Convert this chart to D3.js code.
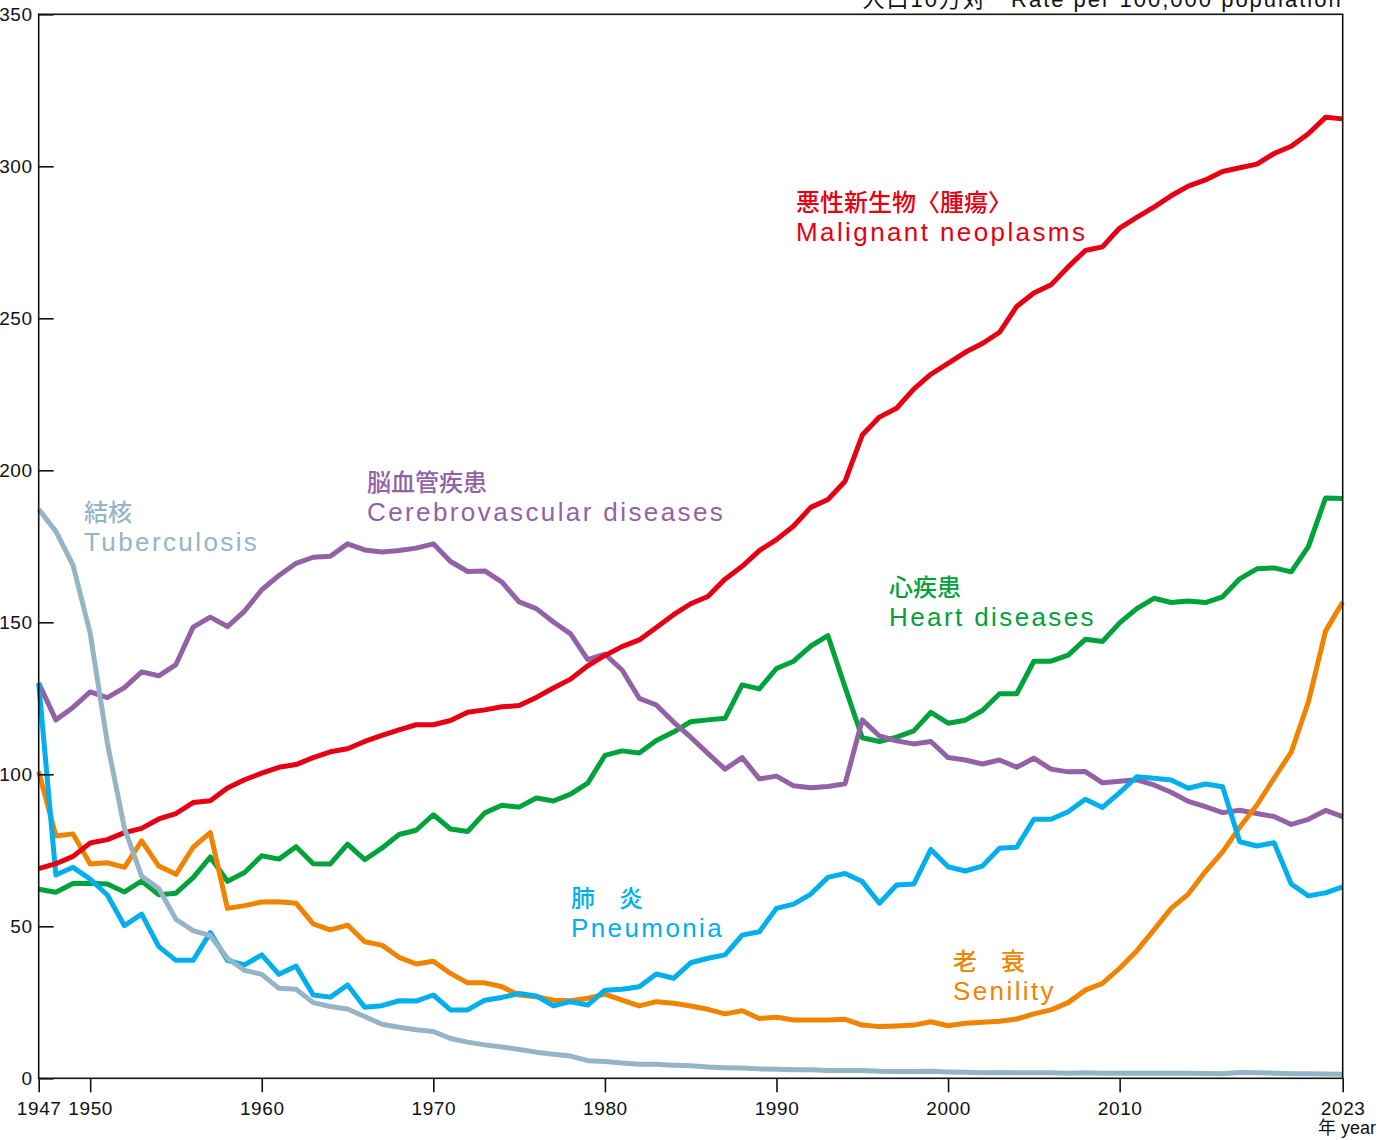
<!DOCTYPE html>
<html>
<head>
<meta charset="utf-8">
<script src="https://cdn.jsdelivr.net/npm/d3@7"></script>
<style>
  body { margin: 0; background: #fff; }
  svg { display: block; }
  text { font-family: "Liberation Sans", Arial, "Noto Sans CJK JP", sans-serif; }
</style>
</head>
<body>
<svg id="chart" width="1380" height="1140"></svg>
<script>
  // 年次 1947–2023
  let years = d3.range(1947, 2024);

  // 死亡率（人口10万対）
  let malignant = [69.0, 70.6, 73.0,
    77.4, 78.5, 80.8, 82.2, 85.3, 87.1, 90.7, 91.3, 95.5, 98.2,
    100.4, 102.3, 103.2, 105.5, 107.4, 108.4, 110.8, 112.8, 114.6, 116.3,
    116.3, 117.7, 120.4, 121.2, 122.2, 122.6, 125.3, 128.4, 131.3, 135.7,
    139.1, 142.0, 144.2, 148.3, 152.5, 156.1, 158.5, 164.2, 168.4, 173.6,
    177.2, 181.7, 187.8, 190.4, 196.4, 211.6, 217.5, 220.4, 226.7, 231.6,
    235.2, 238.8, 241.7, 245.4, 253.9, 258.3, 261.0, 266.9, 272.3, 273.5,
    279.7, 283.2, 286.6, 290.3, 293.5, 295.5, 298.3, 299.5, 300.7, 304.2,
    306.6, 310.7, 316.1, 315.6];

  let heart = [62.2, 61.2, 64.1,
    64.2, 63.9, 61.3, 64.9, 60.4, 60.9, 66.0, 72.8, 64.8, 67.7,
    73.2, 72.1, 76.2, 70.6, 70.5, 77.0, 71.9, 75.7, 80.2, 81.6,
    86.7, 82.0, 81.2, 87.3, 89.8, 89.2, 92.2, 91.2, 93.5, 97.1,
    106.2, 107.7, 107.0, 111.1, 113.9, 117.3, 117.9, 118.4, 129.4, 128.1,
    134.8, 137.2, 142.2, 145.6, 128.6, 112.0, 110.8, 112.2, 114.3, 120.4,
    116.8, 117.8, 121.0, 126.5, 126.5, 137.2, 137.2, 139.2, 144.4, 143.7,
    149.8, 154.5, 157.9, 156.5, 157.0, 156.5, 158.4, 164.3, 167.6, 167.9,
    166.6, 174.9, 190.9, 190.7];

  let cerebro = [130.0, 117.9, 122.0,
    127.1, 125.2, 128.5, 133.7, 132.4, 136.1, 148.4, 151.7, 148.6, 153.7,
    160.7, 165.4, 169.4, 171.4, 171.7, 175.8, 173.8, 173.1, 173.6, 174.4,
    175.8, 170.0, 166.7, 166.9, 163.2, 156.7, 154.5, 150.1, 146.2, 137.7,
    139.5, 134.3, 125.0, 122.8, 117.2, 112.2, 106.9, 101.7, 105.5, 98.5,
    99.4, 96.2, 95.6, 96.0, 96.9, 117.9, 112.6, 111.0, 110.0, 110.8,
    105.5, 104.7, 103.4, 104.7, 102.3, 105.3, 101.7, 100.8, 100.9, 97.2,
    97.7, 98.2, 96.5, 94.1, 91.1, 89.4, 87.4, 88.2, 87.1, 86.1,
    83.5, 85.2, 88.1, 86.1];

  let pneumonia = [130.0, 66.9, 69.4,
    65.5, 60.3, 50.2, 54.0, 43.3, 38.8, 38.8, 47.9, 38.8, 37.3,
    40.6, 34.2, 36.9, 27.4, 26.7, 30.7, 23.4, 23.9, 25.5, 25.4,
    27.4, 22.5, 22.5, 25.7, 26.6, 27.9, 27.1, 23.8, 25.2, 24.1,
    29.0, 29.3, 30.1, 34.3, 32.9, 38.0, 39.5, 40.6, 47.1, 48.2,
    55.9, 57.3, 60.6, 66.1, 67.4, 64.7, 57.6, 63.6, 63.9, 75.3,
    69.6, 68.2, 69.8, 75.7, 76.0, 85.2, 85.2, 87.7, 91.8, 89.1,
    94.0, 99.2, 98.7, 98.1, 95.4, 96.8, 95.9, 77.8, 76.4, 77.5,
    63.9, 60.0, 61.0, 63.0];

  let senility = [100.9, 79.7, 80.4,
    70.5, 70.9, 69.4, 78.1, 69.8, 67.1, 76.0, 80.8, 55.9, 56.8,
    58.0, 58.1, 57.6, 50.8, 48.8, 50.4, 44.9, 43.8, 39.8, 37.6,
    38.5, 34.5, 31.4, 31.4, 30.1, 27.4, 26.8, 25.7, 25.5, 26.3,
    27.7, 25.7, 23.8, 25.2, 24.7, 23.8, 22.7, 21.2, 22.2, 19.7,
    20.1, 19.2, 19.2, 19.2, 19.4, 17.5, 17.0, 17.2, 17.5, 18.6,
    17.3, 18.1, 18.4, 18.8, 19.5, 21.2, 22.5, 24.9, 29.0, 31.2,
    36.2, 41.9, 48.8, 55.9, 60.6, 68.0, 74.5, 82.6, 89.9, 98.7,
    107.3, 123.8, 147.1, 156.7];

  let tuberculosis = [187.2, 179.9, 168.8,
    146.4, 110.3, 82.2, 66.5, 62.4, 52.3, 48.6, 46.9, 39.5, 35.5,
    34.2, 29.6, 29.3, 24.9, 23.6, 22.8, 20.3, 17.8, 16.8, 16.0,
    15.4, 13.1, 11.9, 11.0, 10.3, 9.5, 8.6, 7.9, 7.3, 5.8,
    5.5, 5.0, 4.6, 4.6, 4.3, 4.1, 3.7, 3.5, 3.4, 3.1,
    3.0, 2.8, 2.8, 2.6, 2.6, 2.6, 2.3, 2.2, 2.2, 2.3,
    2.1, 2.0, 1.8, 1.9, 1.8, 1.8, 1.8, 1.7, 1.8, 1.7,
    1.7, 1.7, 1.7, 1.7, 1.7, 1.6, 1.5, 1.9, 1.8, 1.7,
    1.5, 1.5, 1.4, 1.3];

  // 目盛り
  let xTicks = [1947, 1950, 1960, 1970, 1980, 1990, 2000, 2010, 2023];
  let yTicks = [0, 50, 100, 150, 200, 250, 300, 350];

  // 系列（描画順）
  let series = [
    { key: 'heart',     values: heart,        color: '#00a23c', ja: '心疾患',           en: 'Heart diseases' },
    { key: 'cerebro',   values: cerebro,      color: '#9261a6', ja: '脳血管疾患',       en: 'Cerebrovascular diseases' },
    { key: 'senility',  values: senility,     color: '#f08300', ja: '老\u3000衰',       en: 'Senility' },
    { key: 'pneumonia', values: pneumonia,    color: '#00afec', ja: '肺\u3000炎',       en: 'Pneumonia' },
    { key: 'malignant', values: malignant,    color: '#e60012', ja: '悪性新生物〈腫瘍〉', en: 'Malignant neoplasms' },
    { key: 'tb',        values: tuberculosis, color: '#95b4c6', ja: '結核',             en: 'Tuberculosis' }
  ];

  // ラベル位置（px、左端とベースライン）
  let labelPos = {
    malignant: [796, 211], cerebro: [367, 491], tb: [84, 521],
    heart: [889, 596], pneumonia: [571, 907], senility: [953, 970]
  };

  let plotL = 38.7, plotR = 1342.7, plotT = 14.3, plotB = 1078.3;

  let x = d3.scaleLinear().domain([1947, 2023]).range([plotL, plotR]);
  let y = d3.scaleLinear().domain([0, 350]).range([plotB, plotT]);

  let svg = d3.select('#chart');

  // 右上の単位（元図でも上端で切れている）
  svg.append('text')
    .attr('x', plotR).attr('y', 7)
    .attr('text-anchor', 'end')
    .style('font-size', '22px').style('letter-spacing', '2px')
    .attr('fill', '#111')
    .text('人口10万対\u3000Rate per 100,000 population');

  // 線
  let line = d3.line().x((d, i) => x(years[i])).y(d => y(d));

  svg.append('g').selectAll('path').data(series).enter().append('path')
    .attr('d', d => line(d.values))
    .attr('fill', 'none')
    .attr('stroke', d => d.color)
    .attr('stroke-width', 5)
    .attr('stroke-linejoin', 'round');

  // 枠
  svg.append('rect')
    .attr('x', plotL).attr('y', plotT)
    .attr('width', plotR - plotL).attr('height', plotB - plotT)
    .attr('fill', 'none').attr('stroke', '#111').attr('stroke-width', 1.6);

  // y軸（内向き目盛り）
  let yAxis = svg.append('g').attr('transform', `translate(${plotL},0)`)
    .call(d3.axisLeft(y).tickValues(yTicks).tickSizeInner(-15).tickSizeOuter(0).tickPadding(6));
  yAxis.select('.domain').remove();
  yAxis.selectAll('line').attr('stroke', '#111').attr('stroke-width', 1.6);
  yAxis.selectAll('text')
    .style('font-family', '"Liberation Sans", Arial, sans-serif')
    .style('font-size', '19px').style('letter-spacing', '0.6px')
    .attr('fill', '#111');

  // x軸
  let xAxis = svg.append('g').attr('transform', `translate(0,${plotB})`)
    .call(d3.axisBottom(x).tickValues(xTicks).tickFormat(d3.format('d'))
      .tickSizeInner(14).tickSizeOuter(0).tickPadding(9));
  xAxis.select('.domain').remove();
  xAxis.selectAll('line').attr('stroke', '#111').attr('stroke-width', 1.6);
  xAxis.selectAll('text')
    .style('font-family', '"Liberation Sans", Arial, sans-serif')
    .style('font-size', '19px').style('letter-spacing', '0.6px')
    .attr('fill', '#111');

  svg.append('text')
    .attr('x', 1318).attr('y', 1134)
    .style('font-size', '18px').attr('fill', '#111')
    .text('年 year');

  // 系列ラベル
  let labels = svg.append('g').selectAll('g').data(series).enter().append('g')
    .attr('transform', d => `translate(${labelPos[d.key][0]},${labelPos[d.key][1]})`)
    .attr('fill', d => d.color);

  labels.append('text')
    .style('font-family', '"Noto Sans CJK JP", sans-serif')
    .style('font-size', '24px').style('font-weight', 500)
    .text(d => d.ja);

  labels.append('text')
    .attr('y', 30)
    .style('font-size', '26px').style('letter-spacing', '2.4px')
    .text(d => d.en);
</script>
</body>
</html>
